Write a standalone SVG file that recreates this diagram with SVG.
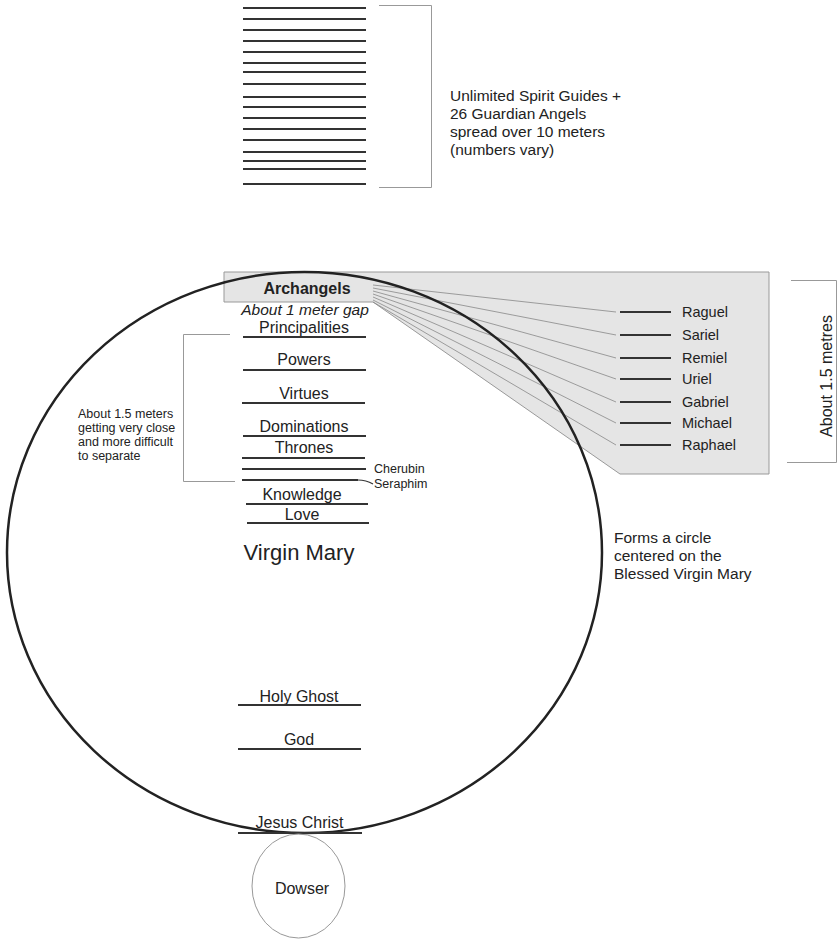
<svg xmlns="http://www.w3.org/2000/svg" width="840" height="939" viewBox="0 0 840 939">
<style>
text{font-family:"Liberation Sans",Arial,sans-serif;fill:#222}
.t16{font-size:16px;text-anchor:middle}
.hl{stroke:#333;stroke-width:2;fill:none}
.thin{stroke:#999;stroke-width:1;fill:none}
.fan{stroke:#888;stroke-width:0.8;fill:none}
.sm{font-size:12.5px}
.mid{font-size:15.5px}
</style>
<rect width="840" height="939" fill="#fff"/>
<g id="spirit-guides">
<path class="hl" d="M243 8H366M243 19H366M243 30H366M243 41H366M243 52H366M243 63H366M243 72H366M243 84H366M243 97H366M243 107H366M243 118H366M243 129H366M243 140H366M243 152H366M243 161H366M243 169H366M243 184H366"/>
<path class="thin" d="M379 5.5H431.5V187.5H379"/>
<text class="mid" x="450" y="101">Unlimited Spirit Guides +</text>
<text class="mid" x="450" y="119">26 Guardian Angels</text>
<text class="mid" x="450" y="137">spread over 10 meters</text>
<text class="mid" x="450" y="155">(numbers vary)</text>
</g>
<g id="archangels-panel">
<polygon points="224,272 769,272 769,474 620,474 373,302 224,302" fill="#e5e5e5" stroke="#999" stroke-width="1"/>
</g>
<g id="connectors">
<path class="fan" d="M373 285L616 312M373 288L616 335M373 291L616 358M373 294L616 379M373 297L616 402M373 300L616 423M373 302L616 445"/>
<path d="M358 480Q366 480 373 484" stroke="#333" stroke-width="1.2" fill="none"/>
</g>
<g id="virgin-mary-circle">
<ellipse cx="304.5" cy="552.5" rx="297.5" ry="280.5" fill="none" stroke="#222" stroke-width="2.5"/>
</g>
<g id="archangels">
<text x="307" y="294" style="font-size:16px;font-weight:bold;text-anchor:middle">Archangels</text>
</g>
<g id="archangel-names">
<path class="hl" d="M620 312H671M620 335H671M620 358H671M620 379H671M620 402H671M620 423H671M620 445H671"/>
<text x="682" y="317" style="font-size:14.5px">Raguel</text>
<text x="682" y="340" style="font-size:14.5px">Sariel</text>
<text x="682" y="363" style="font-size:14.5px">Remiel</text>
<text x="682" y="384" style="font-size:14.5px">Uriel</text>
<text x="682" y="407" style="font-size:14.5px">Gabriel</text>
<text x="682" y="428" style="font-size:14.5px">Michael</text>
<text x="682" y="450" style="font-size:14.5px">Raphael</text>
</g>
<g id="archangel-span">
<path class="thin" d="M791 280.5H836.5V462.5H787"/>
<text transform="translate(832 376) rotate(-90)" style="font-size:16px;text-anchor:middle">About 1.5 metres</text>
</g>
<g id="gap">
<text x="305" y="315" style="font-size:15.5px;font-style:italic;text-anchor:middle">About 1 meter gap</text>
</g>
<g id="choirs">
<text x="304" y="333" class="t16">Principalities</text>
<text x="304" y="365" class="t16">Powers</text>
<text x="304" y="399" class="t16">Virtues</text>
<text x="304" y="432" class="t16">Dominations</text>
<text x="304" y="453" class="t16">Thrones</text>
<text x="302" y="500" class="t16">Knowledge</text>
<text x="302" y="520" class="t16">Love</text>
<path class="hl" d="M243 337H366M243 370H366M242 403H365M243 436H366M242 458H365M242 469H366M242 480H358M246 504H368M247 523H369"/>
<text x="374" y="473" class="sm">Cherubin</text>
<text x="374" y="488" class="sm">Seraphim</text>
</g>
<g id="choir-span">
<path class="thin" d="M230 334.5H183.5V481.5H235"/>
<text x="78" y="418" class="sm">About 1.5 meters</text>
<text x="78" y="432" class="sm">getting very close</text>
<text x="78" y="446" class="sm">and more difficult</text>
<text x="78" y="460" class="sm">to separate</text>
</g>
<g id="virgin-mary">
<text x="299" y="560" style="font-size:22px;text-anchor:middle">Virgin Mary</text>
</g>
<g id="circle-note">
<text class="mid" x="614" y="543">Forms a circle</text>
<text class="mid" x="614" y="561">centered on the</text>
<text class="mid" x="614" y="579">Blessed Virgin Mary</text>
</g>
<g id="holy-ghost">
<text x="299" y="702" class="t16">Holy Ghost</text>
<path class="hl" d="M238 705H361"/>
</g>
<g id="god">
<text x="299" y="745" class="t16">God</text>
<path class="hl" d="M238 749H361"/>
</g>
<g id="jesus-christ">
<text x="299.5" y="828" class="t16">Jesus Christ</text>
<path class="hl" d="M238 833H362"/>
</g>
<g id="dowser">
<ellipse cx="298.5" cy="886" rx="46.5" ry="52" fill="none" stroke="#999" stroke-width="1"/>
<text x="302" y="894" class="t16">Dowser</text>
</g>
</svg>
